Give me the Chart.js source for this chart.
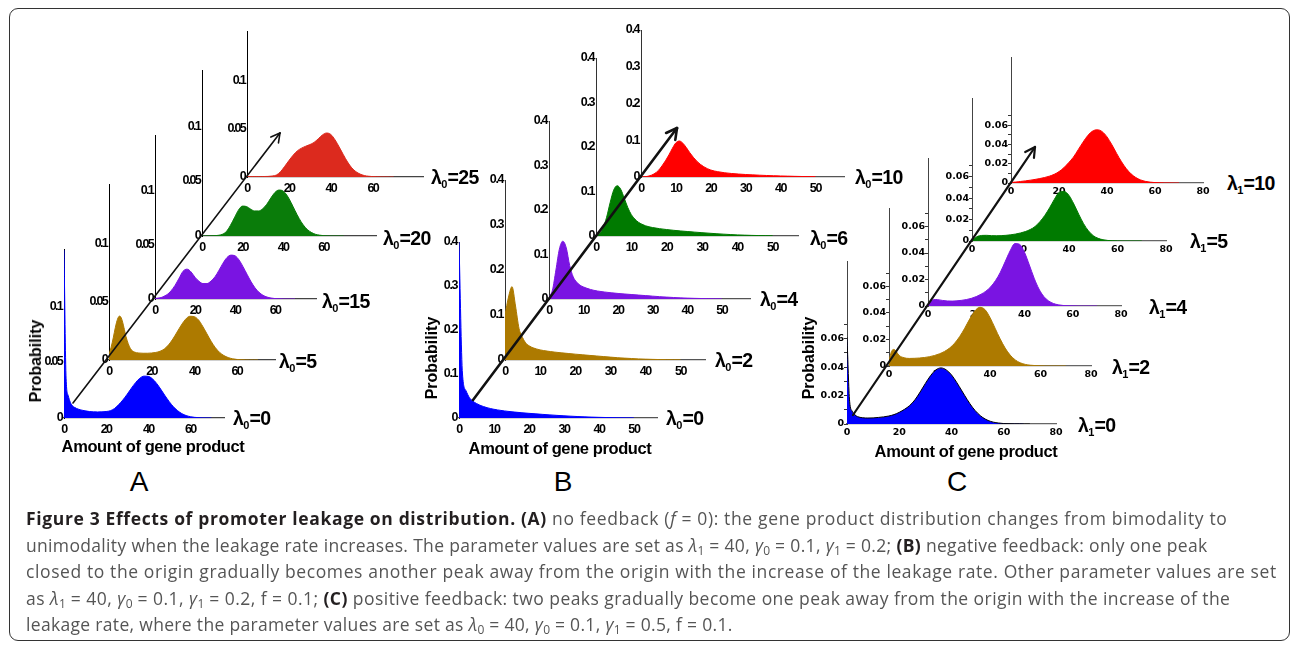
<!DOCTYPE html>
<html><head><meta charset="utf-8">
<script src="https://cdn.jsdelivr.net/npm/chart.js@4/dist/chart.umd.min.js"></script>
<style>
html,body{margin:0;padding:0;background:#fff;}
#fig{position:relative;width:1295px;height:647px;overflow:hidden;background:#fff;}
.abs{position:absolute;white-space:nowrap;}
.lam{font-family:'Liberation Sans',Arial,sans-serif;font-weight:bold;font-size:19.5px;letter-spacing:-0.6px;color:#000;transform:translateY(-50%);}
.lam sub{font-size:11px;vertical-align:-4px;line-height:0;letter-spacing:0;}
.ylab{font-family:'Liberation Sans',Arial,sans-serif;font-weight:bold;font-size:16px;color:#000;transform:translate(-50%,-50%) rotate(-90deg);}
.xlab{font-family:'Liberation Sans',Arial,sans-serif;font-weight:bold;font-size:16.5px;color:#000;transform:translate(-50%,-50%);letter-spacing:-0.4px;}
.plet{font-family:'Liberation Sans',Arial,sans-serif;font-size:28px;color:#000;transform:translate(-50%,-50%);}
.cap{font-family:'Open Sans','Noto Sans',sans-serif;font-size:17.5px;color:#555;left:26px;line-height:22px;}
.cap b{color:#231f20;}
.cap sub{font-size:12px;vertical-align:-3px;line-height:0;letter-spacing:0;}
#frame{position:absolute;left:9px;top:8px;width:1281px;height:633px;border:1.5px solid #333;border-radius:9px;box-sizing:border-box;}
</style></head>
<body><div id="fig"><div id="frame"></div></div>
<script>
// ---------------- DATA ----------------
// Panel A (no feedback), x = amount of gene product
const xA=[0,1,2,3,4,5,6,7,8,10,12,14,16,18,20,22,24,26,28,30,32,34,36,38,40,42,44,46,48,50,52,54,56,58,60,62,64,66,68,70];
const a0=[0.15,0.035,0.02,0.014,0.011,0.0095,0.0085,0.0078,0.0072,0.0064,0.0058,0.0055,0.0054,0.0055,0.0058,0.0065,0.0085,0.012,0.0162,0.0212,0.0266,0.0316,0.0355,0.0374,0.0372,0.035,0.0309,0.0256,0.0199,0.0146,0.010,0.0065,0.0039,0.0022,0.0012,0.0006,0.0003,0.0001,0.0001,0];
const a5=[0.005,0.011,0.019,0.028,0.035,0.0377,0.035,0.028,0.02,0.01,0.0068,0.006,0.0058,0.0058,0.006,0.0065,0.0075,0.0095,0.013,0.018,0.024,0.030,0.035,0.0375,0.0372,0.0345,0.029,0.0225,0.016,0.0105,0.0065,0.0038,0.0021,0.0011,0.0005,0.0002,0.0001,0,0,0];
const a15=[0.0005,0.0007,0.001,0.0013,0.002,0.003,0.004,0.0055,0.0075,0.0125,0.019,0.0255,0.0275,0.025,0.02,0.0163,0.0142,0.0142,0.0165,0.0205,0.0265,0.033,0.0382,0.0404,0.0398,0.036,0.0298,0.0228,0.016,0.0103,0.0062,0.0034,0.0018,0.0009,0.0004,0.0002,0.0001,0,0,0];
const a20=[0,0,0,0.0001,0.0001,0.0002,0.0003,0.0004,0.0006,0.0015,0.004,0.0095,0.0165,0.0235,0.0272,0.0268,0.0245,0.0228,0.0228,0.0248,0.0288,0.0345,0.0395,0.0418,0.041,0.037,0.0305,0.023,0.016,0.0102,0.006,0.0033,0.0016,0.0008,0.0003,0.0001,0,0,0,0];
const a25=[0.0004,0.0004,0.0004,0.0004,0.0004,0.0004,0.0004,0.0004,0.0005,0.0006,0.001,0.002,0.0055,0.011,0.017,0.0225,0.027,0.0298,0.0318,0.0335,0.0358,0.0395,0.0435,0.0455,0.044,0.0385,0.031,0.023,0.0155,0.0095,0.0055,0.003,0.0015,0.0008,0.0004,0.0002,0.0001,0.0001,0,0];
const lamA=[0,5,15,20,25];
const xTicksA=[0,20,40,60];
const yTicksA=[0,0.05,0.1];

// Panel B (negative feedback)
const xB=[0,1,2,3,4,5,6,7,8,9,10,11,12,13,14,16,18,20,22,24,26,28,30,32,34,36,38,40,42,44,46,48,50];
const b0=[0.4,0.1,0.062,0.046,0.038,0.033,0.029,0.026,0.0235,0.0215,0.0198,0.0184,0.0172,0.0161,0.0151,0.0134,0.0119,0.0106,0.0094,0.0082,0.0071,0.006,0.005,0.0041,0.0033,0.0026,0.002,0.0015,0.0011,0.0008,0.0005,0.0003,0.0002];
const b2=[0.1,0.14,0.163,0.12,0.07,0.05,0.037,0.031,0.027,0.0245,0.0225,0.021,0.0198,0.0187,0.0177,0.016,0.0145,0.013,0.0117,0.0103,0.009,0.0077,0.0064,0.0052,0.0042,0.0033,0.0025,0.0019,0.0014,0.001,0.0007,0.0005,0.0003];
const b4=[0.004,0.02,0.065,0.112,0.13,0.115,0.075,0.05,0.038,0.031,0.027,0.024,0.0215,0.0195,0.018,0.0158,0.014,0.0125,0.0112,0.01,0.0088,0.0076,0.0064,0.0053,0.0043,0.0034,0.0026,0.002,0.0015,0.0011,0.0008,0.0005,0.0003];
const b6=[0.001,0.005,0.018,0.042,0.075,0.103,0.113,0.105,0.085,0.064,0.048,0.038,0.031,0.0265,0.023,0.019,0.0165,0.0145,0.0128,0.0113,0.01,0.0087,0.0075,0.0063,0.0052,0.0042,0.0033,0.0025,0.0019,0.0014,0.001,0.0007,0.0005];
const b10=[0,0.0005,0.002,0.005,0.01,0.018,0.03,0.044,0.06,0.078,0.093,0.098,0.092,0.08,0.066,0.043,0.028,0.019,0.0145,0.0115,0.0095,0.008,0.0068,0.0058,0.0049,0.0041,0.0034,0.0028,0.0023,0.0018,0.0014,0.0011,0.0008];
const lamB=[0,2,4,6,10];
const xTicksB=[0,10,20,30,40,50];
const yTicksB=[0,0.1,0.2,0.3,0.4];

// Panel C (positive feedback)
const xC=[0,1,2,3,4,6,8,10,12,14,16,18,20,22,24,26,28,30,32,34,36,38,40,42,44,46,48,50,52,54,56,58,60,62,64,66,68,70];
const c0=[0.061,0.016,0.009,0.0065,0.0052,0.0044,0.0042,0.0043,0.0046,0.005,0.0056,0.0066,0.0082,0.0103,0.013,0.017,0.0225,0.0285,0.034,0.038,0.0394,0.038,0.0345,0.0292,0.0232,0.0172,0.0118,0.0076,0.0045,0.0025,0.0013,0.0007,0.0003,0.0002,0.0001,0.0001,0,0];
const c2=[0.004,0.011,0.0125,0.0105,0.008,0.0062,0.0057,0.0058,0.006,0.0064,0.007,0.0079,0.0092,0.011,0.0135,0.0172,0.0222,0.0285,0.0355,0.0415,0.0442,0.0425,0.0365,0.0285,0.0205,0.0135,0.0082,0.0046,0.0024,0.0012,0.0006,0.0003,0.0001,0,0,0,0,0];
const c4=[0.001,0.003,0.0045,0.0049,0.0048,0.0042,0.0038,0.0037,0.0039,0.0043,0.0049,0.0058,0.0071,0.0089,0.0112,0.0145,0.0192,0.0255,0.0335,0.0415,0.0471,0.0465,0.0405,0.031,0.021,0.0128,0.0072,0.0038,0.0019,0.0009,0.0004,0.0002,0.0001,0,0,0,0,0];
const c5=[0.001,0.0025,0.004,0.0048,0.0052,0.0053,0.005,0.0049,0.005,0.0053,0.0058,0.0065,0.0075,0.0088,0.0107,0.0135,0.018,0.0238,0.031,0.039,0.0455,0.0462,0.0425,0.0345,0.025,0.0162,0.0095,0.005,0.0025,0.0012,0.0005,0.0002,0.0001,0,0,0,0,0];
const c10=[0.0005,0.0008,0.001,0.0013,0.0016,0.0022,0.0029,0.0037,0.0046,0.0057,0.0071,0.009,0.0118,0.0158,0.021,0.0268,0.0345,0.0423,0.0492,0.0538,0.0552,0.0532,0.0478,0.0398,0.0307,0.0222,0.015,0.0095,0.0057,0.0032,0.0017,0.0009,0.0004,0.0002,0.0001,0.0001,0,0];
const lamC=[0,2,4,5,10];
const xTicksC=[0,20,40,60,80];
const yTicksC=[0,0.02,0.04,0.06];
const yMinorC=[0,0.01,0.02,0.03,0.04,0.05,0.06,0.07];

// ---------------- LAYOUT (pixel geometry of each sub-plot: origin x, origin y, width, height, x max, y max) ----------------
const narrow={family:"'Liberation Sans',Arial,sans-serif",weight:'bold',size:12.5};
const panels=[
 {x:xA, ys:[a0,a5,a15,a20,a25], lam:lamA, sub:'0', xt:xTicksA, yt:yTicksA,
  colors:['#0000ff','#ad7a00','#7a14e2','#0a7c0a','#dc2a1e'], edge:null,
  geo:[[64,418,160,169,76,0.151],[109,360,166,176,78,0.151],[155,299,161,164,80.5,0.151],[202,236,174,166,86,0.151],[247,177,176,146,84,0.151]],
  lamPos:[[233,418],[279,361],[322,301],[383,238],[431,177]],
  font:narrow, ls:'-1.7px', ypad:2, xpad:4,
  L:36,R:12,T:10,B:22, yAxis:'#000', xAxis:'#444', minor:false},
 {x:xB, ys:[b0,b2,b4,b6,b10], lam:lamB, sub:'0', xt:xTicksB, yt:yTicksB,
  colors:['#0000ff','#ad7a00','#7a14e2','#007a00','#ff0000'], edge:null,
  geo:[[459,418,198,176,56.6,0.4],[505,360,200,180,57,0.4],[549,299,201,178,58.2,0.4],[596,236,202,178,57.2,0.4],[641,177,203,147,58.2,0.4]],
  lamPos:[[666,418],[715,360],[760,299],[810,238],[855,177]],
  font:narrow, ls:'-1.4px', ypad:2, xpad:4,
  L:30,R:12,T:10,B:22, yAxis:'#333', xAxis:'#555', minor:false},
 {x:xC, ys:[c0,c2,c4,c5,c10], lam:lamC, sub:'1', xt:xTicksC, yt:yTicksC,
  colors:['#0000ff','#ad7a00','#7a14e2','#007a00','#ff0000'], edge:['#000',null,null,null,null],
  geo:[[847,424,209,163,80,0.1145],[889,366,202,158,80,0.119],[928,306,193,148,80,0.1117],[972,241,194,143,80,0.1334],[1011,183,192,126,80,0.1306]],
  lamPos:[[1078,425],[1112,367],[1149,307],[1190,241],[1227,183]],
  font:{family:"'DejaVu Sans',sans-serif",weight:'bold',size:9.5}, ls:'0px', ypad:0, xpad:3,
  L:40,R:14,T:10,B:22, yAxis:'#444', xAxis:'#666', minor:true}
];
const arrows=[[73,403,280,133,1.6,10],[473,400,677,128,2.6,12],[853,415,1035,147,2.2,11]];

const fig=document.getElementById('fig');
function addDiv(cls,html,x,y){const d=document.createElement('div');d.className='abs '+cls;d.innerHTML=html;d.style.left=x+'px';d.style.top=y+'px';fig.appendChild(d);return d;}

function addChart(p,k){
  const [ox,oy,w,h,xmax,ymax]=p.geo[k];
  const L=p.L,R=p.R,T=p.T,B=p.B;
  const W=L+w+R,H=T+h+B;
  const c=document.createElement('canvas');
  c.width=W;c.height=H;
  c.style.cssText='position:absolute;left:'+(ox-L)+'px;top:'+(oy-h-T)+'px;width:'+W+'px;height:'+H+'px;';
  fig.appendChild(c);
  const ys=p.ys[k];
  const fmt=v=>(+v.toFixed(3)).toString();
  new Chart(c,{type:'line',
    data:{datasets:[{data:p.x.map((v,i)=>({x:v,y:ys[i]})),fill:'origin',backgroundColor:p.colors[k],
      borderColor:(p.edge&&p.edge[k])?p.edge[k]:p.colors[k],borderWidth:1,pointRadius:0,cubicInterpolationMode:'monotone'}]},
    plugins:[{id:'letterSpacing',beforeDraw(chart){chart.ctx.letterSpacing=p.ls;}}],
    options:{responsive:false,animation:false,devicePixelRatio:1,
      layout:{autoPadding:false,padding:{left:0,right:R,top:T,bottom:0}},
      plugins:{legend:{display:false},tooltip:{enabled:false}},
      scales:{
        x:{type:'linear',min:0,max:xmax,
           afterBuildTicks:s=>{s.ticks=p.xt.map(v=>({value:v}));},
           afterFit:s=>{s.height=B;},
           grid:{display:false,drawTicks:false},border:{color:p.xAxis,width:1.2},
           ticks:{font:p.font,color:'#000',padding:p.xpad,maxRotation:0,autoSkip:false,callback:v=>String(v)}},
        y:{type:'linear',min:0,max:ymax,
           afterBuildTicks:s=>{s.ticks=(p.minor?yMinorC:p.yt).map(v=>({value:v}));},
           afterFit:s=>{s.width=L;},
           grid:p.minor?{display:true,drawOnChartArea:false,drawTicks:true,tickLength:3,color:'#333',lineWidth:1}:{display:false,drawTicks:false},
           border:{color:p.yAxis,width:1},
           ticks:{font:p.font,color:'#000',padding:p.ypad,autoSkip:false,
             callback:v=>{const s=fmt(v);return p.yt.some(t=>fmt(t)===s)?s:'';}}}
      }}});
}

panels.forEach(p=>{for(let k=4;k>=0;k--) addChart(p,k);});

// lambda labels
panels.forEach(p=>{p.lamPos.forEach((pos,k)=>{addDiv('lam','λ<sub>'+p.sub+'</sub>='+p.lam[k],pos[0],pos[1]);});});

// axis titles & panel letters
[[36,361],[432,358],[809,358]].forEach(q=>addDiv('ylab','Probability',q[0],q[1]));
[[153,446],[560,448],[966,451]].forEach(q=>addDiv('xlab','Amount of gene product',q[0],q[1]));
[['A',139,482],['B',563,482],['C',957,482]].forEach(q=>addDiv('plet',q[0],q[1],q[2]));

// arrows
const NS='http://www.w3.org/2000/svg';
const svg=document.createElementNS(NS,'svg');
svg.setAttribute('width','1295');svg.setAttribute('height','647');
svg.style.cssText='position:absolute;left:0;top:0;pointer-events:none;';
arrows.forEach(([x1,y1,x2,y2,lw,hl])=>{
  const ang=Math.atan2(y2-y1,x2-x1);
  const pts=[[x1,y1,x2,y2]];
  [-0.5,0.5].forEach(d=>{pts.push([x2,y2,x2-hl*Math.cos(ang+d),y2-hl*Math.sin(ang+d)]);});
  pts.forEach(s=>{const l=document.createElementNS(NS,'line');
    l.setAttribute('x1',s[0]);l.setAttribute('y1',s[1]);l.setAttribute('x2',s[2]);l.setAttribute('y2',s[3]);
    l.setAttribute('stroke','#111');l.setAttribute('stroke-width',lw);l.setAttribute('stroke-linecap','round');svg.appendChild(l);});
});
fig.appendChild(svg);

// caption
const capLines=[
 '<b>Figure 3 Effects of promoter leakage on distribution.</b> <b>(A)</b> no feedback (<i>f</i> = 0): the gene product distribution changes from bimodality to',
 'unimodality when the leakage rate increases. The parameter values are set as <i>λ</i><sub>1</sub> = 40, <i>γ</i><sub>0</sub> = 0.1, <i>γ</i><sub>1</sub> = 0.2; <b>(B)</b> negative feedback: only one peak',
 'closed to the origin gradually becomes another peak away from the origin with the increase of the leakage rate. Other parameter values are set',
 'as <i>λ</i><sub>1</sub> = 40, <i>γ</i><sub>0</sub> = 0.1, <i>γ</i><sub>1</sub> = 0.2, f = 0.1; <b>(C)</b> positive feedback: two peaks gradually become one peak away from the origin with the increase of the',
 'leakage rate, where the parameter values are set as <i>λ</i><sub>0</sub> = 40, <i>γ</i><sub>0</sub> = 0.1, <i>γ</i><sub>1</sub> = 0.5, f = 0.1.'
];
const capY=[518,545,571,598,624];
const capLS=[0.64,0.33,0.6,0.45,0.32];
capLines.forEach((t,i)=>{const d=addDiv('cap',t,26,capY[i]-11);d.style.letterSpacing=capLS[i]+'px';});
</script>
</body></html>
